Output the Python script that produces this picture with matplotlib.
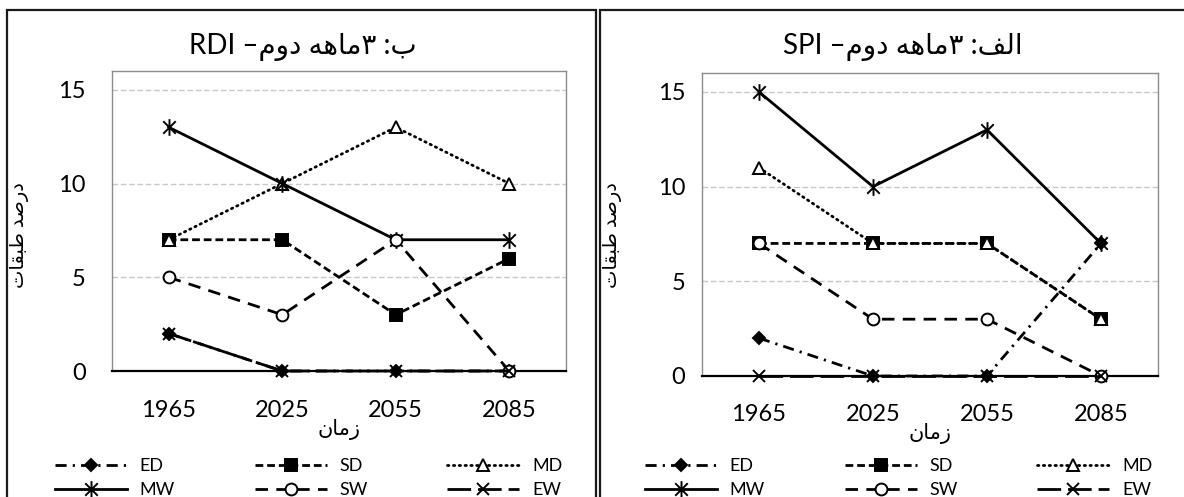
"""Drought/wetness class percentages, second 3-month period: RDI vs SPI."""
import numpy as np
import matplotlib
matplotlib.use("Agg")
import matplotlib.pyplot as plt
from matplotlib.path import Path
from matplotlib.patches import Rectangle

plt.rcParams['font.family'] = ['Lato', 'DejaVu Sans']

years = ['1965', '2025', '2055', '2085']
classes = ['ED', 'SD', 'MD', 'MW', 'SW', 'EW']

# RDI (panel b)
rdi_ed = [2, 0, 0, 0]
rdi_sd = [7, 7, 3, 6]
rdi_md = [7, 10, 13, 10]
rdi_mw = [13, 10, 7, 7]
rdi_sw = [5, 3, 7, 0]
rdi_ew = [2, 0, 0, 0]

# SPI (panel alef)
spi_ed = [2, 0, 0, 7]
spi_sd = [7, 7, 7, 3]
spi_md = [11, 7, 7, 3]
spi_mw = [15, 10, 13, 7]
spi_sw = [7, 3, 3, 0]
spi_ew = [0, 0, 0, 0]

# Arabic presentation forms: isolated, final, initial, medial
FORMS = {
    'ا': ('\uFE8D', '\uFE8E', None, None),
    'ب': ('\uFE8F', '\uFE90', '\uFE91', '\uFE92'),
    'ت': ('\uFE95', '\uFE96', '\uFE97', '\uFE98'),
    'د': ('\uFEA9', '\uFEAA', None, None),
    'ر': ('\uFEAD', '\uFEAE', None, None),
    'ز': ('\uFEAF', '\uFEB0', None, None),
    'ص': ('\uFEB9', '\uFEBA', '\uFEBB', '\uFEBC'),
    'ط': ('\uFEC1', '\uFEC2', '\uFEC3', '\uFEC4'),
    'ف': ('\uFED1', '\uFED2', '\uFED3', '\uFED4'),
    'ق': ('\uFED5', '\uFED6', '\uFED7', '\uFED8'),
    'ل': ('\uFEDD', '\uFEDE', '\uFEDF', '\uFEE0'),
    'م': ('\uFEE1', '\uFEE2', '\uFEE3', '\uFEE4'),
    'ن': ('\uFEE5', '\uFEE6', '\uFEE7', '\uFEE8'),
    'ه': ('\uFEE9', '\uFEEA', '\uFEEB', '\uFEEC'),
    'و': ('\uFEED', '\uFEEE', None, None),
}


def fa(text):
    """Join Persian letters and put them in visual (left-to-right) order."""
    out = []
    for i, ch in enumerate(text):
        if ch not in FORMS:
            out.append(ch)
            continue
        prev = text[i - 1] if i > 0 else ''
        nxt = text[i + 1] if i + 1 < len(text) else ''
        iso, fin, ini, med = FORMS[ch]
        join_prev = prev in FORMS and FORMS[prev][2] is not None
        join_next = nxt in FORMS and ini is not None
        if join_prev and join_next:
            out.append(med)
        elif join_prev:
            out.append(fin)
        elif join_next:
            out.append(ini)
        else:
            out.append(iso)
    return ''.join(reversed(out))


# Excel-style star: vertical bar plus an x
star = Path([(0, -1), (0, 1), (-0.75, -0.75), (0.75, 0.75), (-0.75, 0.75), (0.75, -0.75)],
            [Path.MOVETO, Path.LINETO, Path.MOVETO, Path.LINETO, Path.MOVETO, Path.LINETO])

styles = {
    'ED': dict(ls=(0, (4, 2.2, 0.8, 2.2)), marker='D', ms=6.5, mfc='black'),
    'SD': dict(ls=(0, (2.8, 1.4)), marker='s', ms=8, mfc='black'),
    'MD': dict(ls=(0, (0.5, 1.6)), marker='^', ms=8, mfc='white'),
    'MW': dict(ls='-', marker=star, ms=12, mfc='none'),
    'SW': dict(ls=(0, (4.5, 3)), marker='o', ms=8.5, mfc='white'),
    'EW': dict(ls=(0, (8.5, 2.5)), marker='x', ms=8.5, mfc='none'),
}

W, H = 1184, 497
fig = plt.figure(figsize=(W / 100, H / 100), dpi=100)


def px(x0, y0, x1, y1):
    return [x0 / W, 1 - y1 / H, (x1 - x0) / W, (y1 - y0) / H]


def panel(rect, data, title, title_x, ytick_pad, xtick_pad, leg_x, ylab_x, xlab_y):
    ax = fig.add_axes(px(*rect))
    x = np.arange(len(years))
    lines = {}
    for name in classes:
        st = styles[name]
        ln, = ax.plot(x, data[name], color='black', lw=2, linestyle=st['ls'],
                      marker=st['marker'], markersize=st['ms'], markerfacecolor=st['mfc'],
                      markeredgecolor='black', markeredgewidth=1.4,
                      dash_capstyle='round' if name == 'MD' else 'butt',
                      clip_on=False, zorder=3, label=name)
        lines[name] = ln
    ax.set_xlim(-0.5, 3.5)
    ax.set_ylim(0, 16)
    ax.set_xticks(x)
    ax.set_xticklabels(years)
    ax.set_yticks([0, 5, 10, 15])
    ax.tick_params(axis='y', length=0, pad=ytick_pad, labelsize=17)
    ax.tick_params(axis='x', length=0, pad=xtick_pad, labelsize=17)
    ax.grid(axis='y', color='#c8c8c8', linestyle=(0, (4, 2)), linewidth=1)
    ax.set_axisbelow(True)
    for side in ['top', 'right', 'left']:
        ax.spines[side].set_color('#8c8c8c')
        ax.spines[side].set_linewidth(1)
    ax.spines['bottom'].set_color('black')
    ax.spines['bottom'].set_linewidth(1.6)

    fig.text(title_x / W, 1 - 47 / H, title, ha='center', va='center', fontsize=20)
    fig.text(ylab_x / W, 1 - 235 / H, fa('درصد طبقات'), rotation=90,
             ha='center', va='center', fontsize=14)
    cx = (rect[0] + rect[2]) / 2
    fig.text(cx / W, 1 - xlab_y / H, fa('زمان'), ha='center', va='center', fontsize=15)

    order = ['ED', 'MW', 'SD', 'SW', 'MD', 'EW']
    fig.legend([lines[n] for n in order], order, ncol=3, loc='upper left',
               bbox_to_anchor=(leg_x / W, 1 - 458 / H), frameon=False, fontsize=13,
               handlelength=4.0, handletextpad=0.7, columnspacing=4.4,
               labelspacing=0.45, borderpad=0, borderaxespad=0)
    return ax


rdi = dict(zip(classes, [rdi_ed, rdi_sd, rdi_md, rdi_mw, rdi_sw, rdi_ew]))
spi = dict(zip(classes, [spi_ed, spi_sd, spi_md, spi_mw, spi_sw, spi_ew]))

panel((112, 71, 566, 371), rdi, 'RDI ' + fa('ب: ۳ماهه دوم–'), 303,
      ytick_pad=19, xtick_pad=21, leg_x=55, ylab_x=20, xlab_y=429)
panel((702, 73, 1158, 376), spi, 'SPI ' + fa('الف: ۳ماهه دوم–'), 903,
      ytick_pad=12, xtick_pad=20, leg_x=645, ylab_x=612, xlab_y=433)

# outer frames round each panel
fig.add_artist(Rectangle((7 / W, -0.1), (596 - 7) / W, 1.1 - 10 / H,
                         transform=fig.transFigure, fill=False, edgecolor='#1a1a1a', lw=1.6))
fig.add_artist(Rectangle((600 / W, -0.1), (1200 - 600) / W, 1.1 - 10 / H,
                         transform=fig.transFigure, fill=False, edgecolor='#1a1a1a', lw=1.6))

fig.savefig('out.png', dpi=100)
